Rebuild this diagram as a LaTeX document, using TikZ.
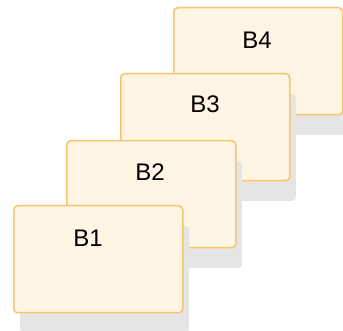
\documentclass[tikz,border=0pt]{standalone}
\usepackage{fontspec}
\setmainfont{Liberation Sans}
\definecolor{bordo}{HTML}{FAC46A}
\definecolor{crema}{HTML}{FEF5E4}
\definecolor{ombra}{HTML}{E5E5E5}

\begin{document}
\begin{tikzpicture}[x=1pt,y=-1pt]
        \useasboundingbox (0,0) rectangle (343,331);
        \tikzset{scheda/.style={draw=bordo, fill=crema, line width=1.5pt,
                rounded corners=4pt, minimum width=169pt, minimum height=107pt,
                inner sep=0pt, anchor=north west}}
        % Schede dalla B4 alla B1, ognuna con la sua ombra
        \foreach \n/\x/\y in {4/173/7, 3/120/73, 2/66/140, 1/13/205} {
                \fill[ombra, rounded corners=4pt]
                (\x+7, \y+21) rectangle +(169, 107);
                \node[scheda] (b\n) at (\x, \y) {};
            }
        % Etichette schede
        \node[font=\fontsize{24}{28}\selectfont] (t4) at (257, 40) {B4};
        \node[font=\fontsize{24}{28}\selectfont] (t3) at (205, 104) {B3};
        \node[font=\fontsize{24}{28}\selectfont] (t2) at (150, 172) {B2};
        \node[font=\fontsize{24}{28}\selectfont] (t1) at (88, 238) {B1};
    \end{tikzpicture}
\end{document}
